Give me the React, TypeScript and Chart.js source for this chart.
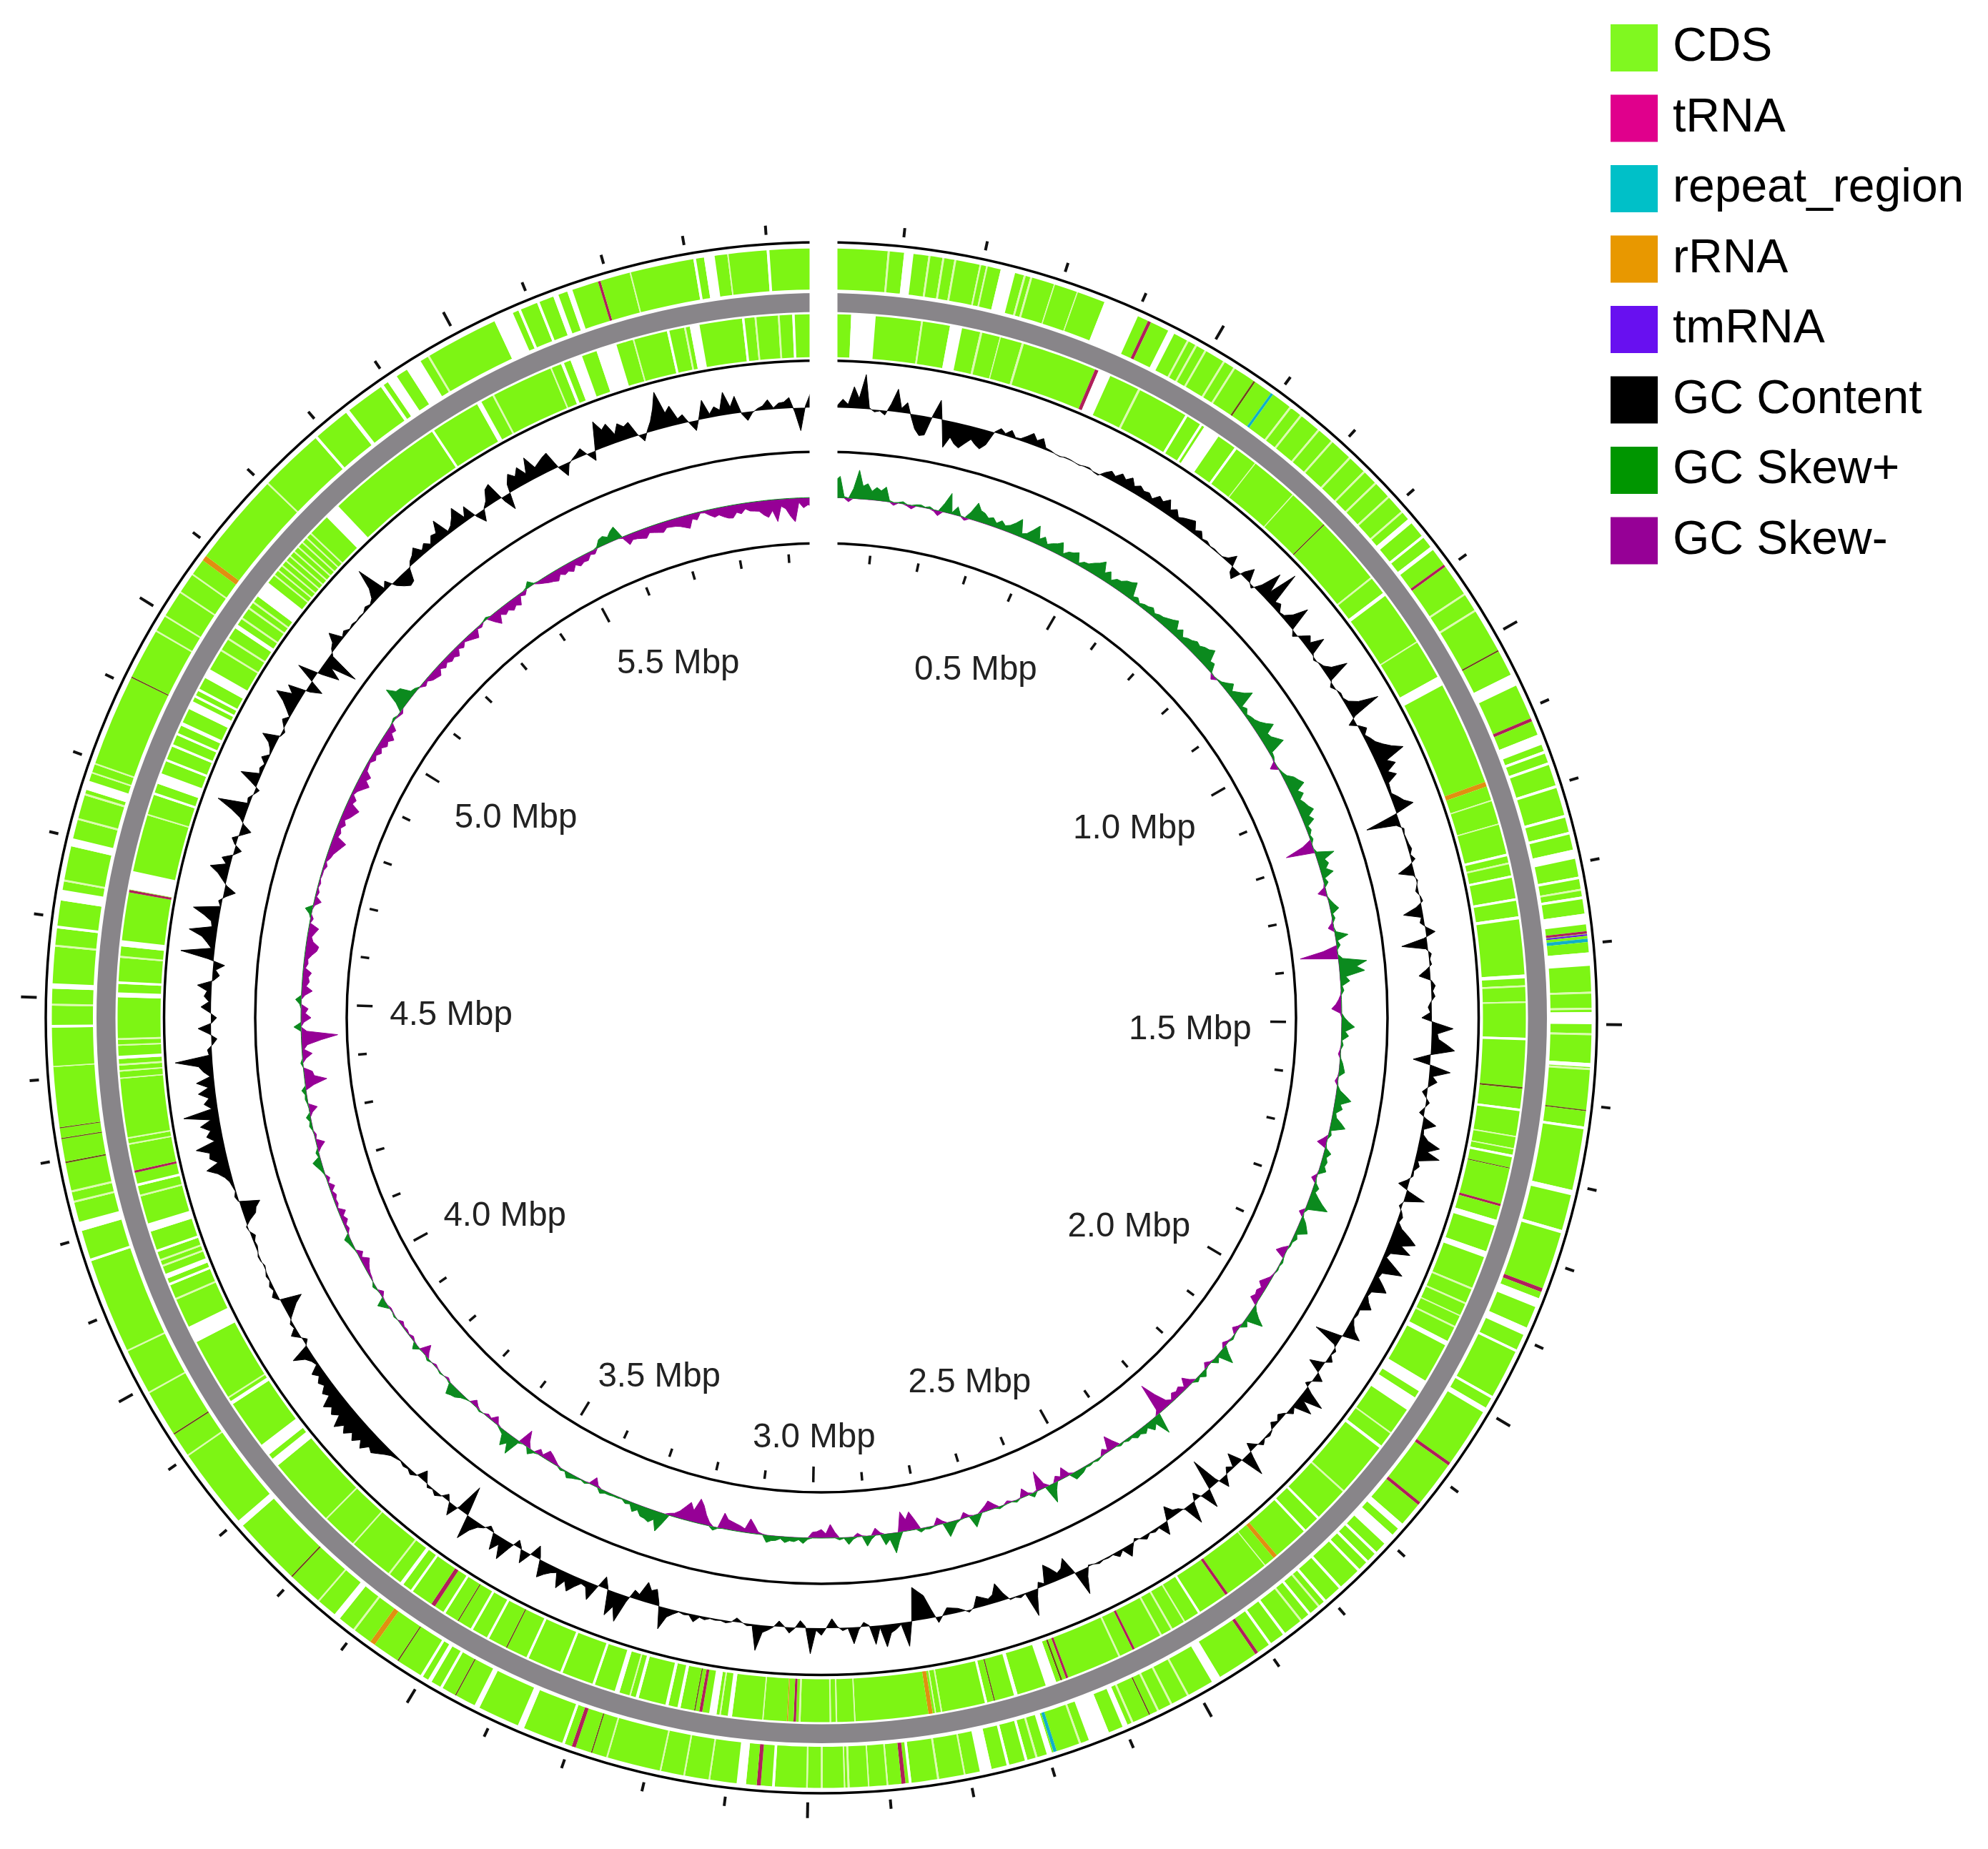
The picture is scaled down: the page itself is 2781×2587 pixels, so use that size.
import React, { useEffect, useRef } from "react";
import { Chart, registerables } from "chart.js";

Chart.register(...registerables);

const genomeMbp = 5.967;
const tickMbp = Array.from({ length: 59 }, (_, i) => (i + 1) / 10);
const mbpLabels = ["0.5 Mbp", "1.0 Mbp", "1.5 Mbp", "2.0 Mbp", "2.5 Mbp", "3.0 Mbp", "3.5 Mbp", "4.0 Mbp", "4.5 Mbp", "5.0 Mbp", "5.5 Mbp"];
const mbpLabelAngles = [23.8, 58.6, 91.5, 124, 157.8, 181, 204.4, 238.2, 270.7, 303.4, 338.1];
const mbpLabelDistance = [535, 513, 516, 519, 549, 585, 549, 521, 518, 512, 537];

const legendNames = ["CDS", "tRNA", "repeat_region", "rRNA", "tmRNA", "GC Content", "GC Skew+", "GC Skew-"];
const legendColors = ["#80F820", "#E0008C", "#00C0C8", "#E89800", "#6810F0", "#000000", "#009600", "#960096"];

// [position, width, kind]; kinds: w gap between genes, t tRNA, r rRNA, c repeat_region, m tmRNA, d dark tRNA hairline
const forwardFeatures: [number, number, string][] = [
  [5, .15, "w"], [6.5, .7, "w"], [8.05, .15, "w"], [9.1, .15, "w"], [10, .15, "w"], [11.9, .12, "w"], [12.4, .12, "w"], [14, 1.1, "w"], [15.3, .15, "w"], [15.8, .15, "w"], [17.6, .08, "w"], [19.4, .08, "w"],
  [22.9, 2.7, "w"], [25.2, .25, "t"], [27, .5, "w"], [28.4, .15, "w"], [29.1, .15, "w"], [29.9, .15, "w"], [31.5, .15, "w"], [32.4, .15, "w"], [34.2, .15, "d"], [35.8, .2, "c"], [37.5, .15, "w"], [38.5, .15, "w"],
  [40.2, .15, "w"], [41.5, .15, "w"], [43.3, .15, "w"], [44.8, .15, "w"], [46, .15, "w"], [47.4, .15, "w"], [48.9, .15, "w"], [49.8, .4, "w"], [51.3, .2, "w"], [52.4, .3, "w"], [54, .2, "t"], [56.6, .15, "w"], [58.05, .15, "w"],
  [61.5, .12, "d"], [63.95, .9, "w"], [67.2, .25, "t"], [68.8, .8, "w"], [69.8, .2, "w"], [70.7, .2, "w"], [72.5, .2, "w"], [74.8, .2, "w"], [76.1, .2, "w"], [77.7, .7, "w"], [79.5, .2, "w"], [80.4, .15, "w"], [81, .2, "w"],
  [82.6, .8, "w"], [83.6, .18, "t"], [83.8, .12, "m"], [84.2, .25, "c"], [85.6, 1, "w"], [88.1, .15, "w"], [89.3, .15, "w"], [90, .9, "w"], [91.2, .15, "w"], [93.5, .3, "w"], [93.8, .15, "w"], [96.9, .1, "d"], [98.2, .2, "w"],
  [103.1, .4, "w"], [106.1, .25, "w"], [110.7, .3, "t"], [111.7, .7, "w"], [114, .6, "w"], [115.6, .2, "w"], [119.5, .2, "w"], [120.6, .4, "w"], [125.4, .25, "t"], [129.1, .25, "t"], [131.3, .5, "w"], [132.6, .9, "w"], [134, .2, "w"],
  [134.9, .2, "w"], [135.8, .2, "w"], [137.7, .2, "w"], [139.2, .2, "w"], [139.8, .15, "w"], [140.7, .2, "w"], [141.5, .15, "w"], [143.1, .2, "w"], [144.4, .2, "w"], [145.6, .25, "t"], [149.2, .7, "w"], [151.6, .15, "w"], [153, .15, "w"],
  [154.1, .15, "w"], [154.8, .1, "d"], [156.2, .15, "w"], [156.8, .4, "w"], [158.9, 1.6, "w"], [160.4, .15, "w"], [162.35, .25, "c"], [162.8, .4, "w"], [163.8, .15, "w"], [164.6, .2, "w"], [166, .2, "w"], [167.7, .9, "w"], [169.3, .12, "w"],
  [171.3, .15, "w"], [173.4, .2, "w"], [173.9, .3, "t"], [175.1, .12, "w"], [176.5, .1, "w"], [178, .15, "w"], [178.3, .1, "w"], [180, .15, "w"], [181.1, .12, "w"], [183.6, .2, "w"], [184.7, .3, "t"], [186, .7, "w"], [188.4, .12, "w"],
  [190.3, .12, "w"], [192.1, .12, "w"], [196.2, .12, "w"], [197.4, .1, "d"], [198.8, .3, "t"], [199.6, .2, "w"], [203, .5, "w"], [206.6, .4, "w"], [208.4, .1, "d"], [209.6, .2, "w"], [210.6, .3, "w"], [211.3, .2, "w"], [213.4, .1, "d"],
  [215.7, .4, "r"], [217.4, .15, "w"], [219, .5, "w"], [220.8, .12, "w"], [223.5, .12, "d"], [229, .5, "w"], [235.4, .12, "w"], [237.3, .12, "d"], [240.9, .12, "w"], [244.4, .12, "w"], [251.7, .2, "w"], [254.3, .7, "w"], [256.2, .15, "w"], [257, .15, "w"],
  [259.2, .12, "d"], [261, .08, "d"], [261.8, .08, "d"], [266.4, .08, "w"], [269.4, .2, "w"], [271, .15, "w"], [272.4, .4, "w"], [275.4, .15, "w"], [276.8, .2, "w"], [279.2, .8, "w"], [280.3, .15, "w"], [283.2, .6, "w"], [285, .15, "w"], [286.9, .15, "w"],
  [287.6, .7, "w"], [288.6, .12, "w"], [289.3, .12, "w"], [296.3, .1, "d"], [300.2, .12, "w"], [301.5, .12, "w"], [303.6, .12, "w"], [305.2, .12, "w"], [306.7, .4, "r"], [314, .12, "w"], [319, .2, "w"], [322, .3, "w"], [325.2, .25, "w"], [326.1, .8, "w"],
  [328, 1.2, "w"], [329.3, .15, "w"], [335.6, 1.5, "w"], [336.9, .2, "w"], [338.4, .2, "w"], [339.8, .4, "w"], [340.9, .4, "w"], [343.2, .2, "t"], [345.6, .1, "w"], [350.5, .2, "w"], [351.6, .8, "w"], [353, .1, "w"], [356, .2, "w"],
];
const reverseFeatures: [number, number, string][] = [
  [3.4, 2, "w"], [8.2, .15, "w"], [11, 1, "w"], [13.1, .18, "w"], [14.7, .08, "w"], [16.6, .18, "w"], [23.3, 1.8, "w"], [23, .3, "t"], [26.8, .18, "w"], [31.2, .2, "w"], [32.6, .2, "w"], [33.6, 1.4, "w"], [36, .2, "w"], [38, .08, "w"], [42, .08, "w"], [45.5, .1, "d"],
  [51.3, .15, "w"], [53, .3, "w"], [57.7, .1, "w"], [61.4, .8, "w"], [70.6, .4, "r"], [72, .1, "w"], [74, .1, "w"], [76.6, .2, "w"], [77.3, .15, "w"], [78.4, .2, "w"], [80.3, .2, "w"], [81.8, .25, "w"], [86.6, .3, "w"], [87.4, .15, "w"], [88.7, .12, "w"],
  [91.7, .2, "w"], [95.7, .15, "d"], [97.5, .2, "w"], [99.7, .1, "w"], [100.7, .1, "w"], [101.3, .2, "w"], [102.3, .08, "d"], [105.4, .2, "t"], [106.9, .5, "w"], [109.6, .5, "w"], [112.6, .15, "w"], [113.9, .15, "w"], [115, .1, "w"], [116, .15, "w"], [117.5, .4, "w"],
  [121.5, 1, "w"], [123.2, 1.2, "w"], [126.1, .12, "w"], [127.5, .25, "w"], [132.2, .15, "w"], [135.2, .2, "w"], [136.7, .2, "w"], [139.9, .35, "r"], [141, .08, "w"], [144.9, .25, "t"], [147.6, .2, "w"], [149, .12, "w"], [150.2, .15, "w"], [151.2, .15, "w"], [153.7, .2, "t"],
  [155, .15, "w"], [159.6, .2, "t"], [160.1, .15, "d"], [161, .9, "w"], [164, .3, "w"], [165.8, .1, "d"], [166.5, .2, "w"], [170.2, .12, "w"], [170.7, .1, "w"], [171.1, .35, "r"], [177.3, .1, "w"], [178.8, .12, "w"], [179.3, .12, "w"], [181.8, .15, "w"], [182.2, .2, "t"],
  [182.8, .08, "r"], [184.8, .1, "w"], [187.5, .35, "w"], [188.3, .12, "w"], [188.9, .6, "w"], [189.9, .25, "t"], [190.4, .1, "d"], [191.7, .25, "w"], [192.7, .25, "w"], [195.2, .25, "w"], [195.8, .12, "w"], [196.9, .4, "w"], [198.9, .2, "w"], [201.7, .2, "w"], [204.7, .2, "w"],
  [206.6, .1, "d"], [208.3, .2, "w"], [209.8, .2, "w"], [211.1, .1, "d"], [212.4, .2, "w"], [213.5, .35, "t"], [215.6, .2, "w"], [216.6, .3, "w"], [217.9, .15, "w"], [221.7, .12, "w"], [224.7, .12, "w"], [230.9, .7, "w"], [232.2, 1, "w"], [236.9, .3, "w"], [237.4, .12, "w"],
  [243.3, 1.4, "w"], [246.5, .15, "w"], [247.8, .2, "w"], [248.5, .4, "w"], [249.4, .15, "w"], [249.9, .15, "w"], [250.7, .2, "w"], [252.7, .7, "w"], [255.4, .15, "w"], [256.3, .2, "w"], [257.4, .2, "t"], [259.7, .12, "w"], [260.2, .12, "w"], [265.1, .1, "w"], [265.7, .12, "w"],
  [266.2, .15, "w"], [266.8, .25, "w"], [267.8, .12, "w"], [268.3, .15, "w"], [271.9, .4, "w"], [272.9, .2, "w"], [275, .15, "w"], [276.1, .5, "w"], [280.4, .2, "t"], [281.3, 1.5, "w"], [286.8, .12, "w"], [288.6, .2, "w"], [289.9, .9, "w"], [291.5, .2, "w"], [292.8, .2, "w"],
  [293.8, .2, "w"], [294.7, .3, "w"], [296.4, .7, "w"], [297.2, .2, "w"], [297.8, .2, "w"], [299.3, .8, "w"], [301.5, .15, "w"], [302.6, .15, "w"], [303.8, .35, "w"], [304.6, .15, "w"], [305.6, .15, "w"], [306.2, .15, "w"], [307.5, 1.4, "w"], [309, .12, "w"], [309.5, .12, "w"],
  [310, .12, "w"], [310.5, .12, "w"], [311, .12, "w"], [311.5, .12, "w"], [312, .12, "w"], [312.5, .12, "w"], [313, .12, "w"], [313.5, .12, "w"], [316, 1.3, "w"], [326.5, .2, "w"], [330.9, .4, "w"], [332.2, .15, "w"], [337.4, .12, "w"], [338.4, .25, "w"], [339.6, 1, "w"],
  [342.2, 1.7, "w"], [342.9, .1, "w"], [344.5, .12, "w"], [347.4, .2, "w"], [348.8, .15, "w"], [349.6, .8, "w"], [353.6, .2, "w"], [354.6, .15, "w"], [356.5, .15, "w"], [357.7, .2, "w"],
];

// GC deviation per half degree of the circle, outward positive
const gcContent = [
  0,2, 6,3, 12,5, 30,14, 48,2, -3,-1, -6,10, 32,6, 15,-4, -20,-28, -26,3, 26,-6, -38,-22, -30,-34, -26,-18, -24,-28, -20,1, 8,3, 10,2, 3,9,
  16,8, 14,3, 2,0, -1,1, 1,0, -1,1, 2,-1, -2,6, 12,8, 16,11, 18,9, 14,10, 12,7, 16,12, 20,8, 14,6, 10,13, 16,5, 10,2, 4,1,
  2,1, 1,5, 15,-8, -14,6, 18,1, -4,10, 38,12, 52,7, 11,2, 4,14, 34,1, -6,4, 14,8, 26,2, -3,1, 4,12, 33,2, -5,0, 3,2, 6,18,
  45,4, -10,2, 10,3, 8,12, 20,30, 44,15, 25,10, 20,5, 4,3, 10,16, 27,-4, -47,-6, 3,1, 2,3, 5,1, 6,-5, -22,-2, 2,-1, -4,1, 3,-8,
  -27,-3, -6,2, 13,-4, -36,-3, 4,1, 3,-6, -16,1, 6,2, 5,-1, -5,-2, -14,6, 30,8, 10,22, 33,-2, -24,4, 29,5, 12,1, -7,-1, 5,-1, -7,4,
  19,3, 4,12, 30,14, 33,4, 8,2, 3,-4, -14,4, 28,1, -4,2, 6,3, 10,24, 36,18, 34,8, 5,20, 35,8, 6,16, 25,6, 4,9, 17,3, 4,2,
  6,12, 24,-4, -38,-3, 4,1, 8,-3, -20,-1, 12,1, -6,10, 34,8, 27,3, 8,-2, -8,-2, -8,1, 4,1, 6,-3, -12,8, 33,-3, -20,-2, -8,2, 15,-6,
  -43,-2, 26,2, -10,4, 30,2, -5,-8, -19,-1, 18,2, 4,1, 6,1, -4,5, 16,2, 8,1, 2,1, 3,0, -2,12, 35,-3, -26,-14, -10,-20, -28,-3, -8,10,
  36,1, 4,1, 2,-10, -26,-12, -8,-12, -16,-2, 3,-2, -6,-8, -10,-1, 8,-12, -33,-40, -47,1, 34,2, 8,12, 31,3, 26,-1, -6,4, 23,1, 4,-2, -13,-1,
  10,3, 36,-2, -10,1, 8,-1, -8,1, 6,10, 36,2, 3,-1, -6,1, 3,1, 2,1, 4,2, 10,2, 3,1, 6,12, 31,-4, -22,-18, -28,-8, -12,8, 39,20,
  35,-2, -16,3, 24,8, 6,14, 24,12, 26,6, 10,16, 24,-3, -17,2, 18,-2, -10,8, 29,10, 23,-1, -6,2, 6,16, 34,-8, -41,-3, 17,1, -8,1, 6,1,
  4,-5, -14,1, 6,2, 4,1, 3,5, 10,16, 22,18, 29,20, 30,22, 32,24, 36,20, 28,21, 30,14, 20,11, 16,9, 16,3, 6,12, 27,1, -6,2, 11,2,
  4,-2, -10,-18, -30,1, 8,2, 5,1, 3,0, -2,1, 2,-1, -3,-2, -6,0, 2,-6, -17,-20, -28,1, 4,1, 3,5, 10,18, 32,14, 24,22, 40,12, 22,15,
  28,12, 49,8, 18,10, 24,9, 25,5, 14,20, 52,4, 6,-2, -8,3, 18,-1, -8,2, 14,3, 10,6, 20,-2, -10,-4, -16,8, 47,5, 12,20, 39,8, 10,22,
  38,1, 5,-4, -16,-2, 6,14, 27,6, 14,-1, -10,2, 8,-4, -15,-2, 6,22, 44,3, 5,-1, -6,10, 28,3, 6,2, 10,1, 4,10, 23,-1, -4,2, 8,1,
  10,20, 35,14, 25,-6, -21,3, 28,-6, -30,-12, -48,-4, 4,8, 20,2, 6,1, 3,1, 2,1, 5,2, 6,18, 45,3, 10,-6, -14,-20, -18,-2, 6,10, 17,6,
  12,5, 14,12, 28,4, 8,16, 27,6, 19,-3, -16,1, 8,22, 26,-6, -23,12, 24,16, 26,12, 33,14, 18,22, 25,-2, -17,-3, 2,6, 11,-2, -13,12, 39,24,
  30,12, 25,18, 22,2, -10,3, 14,30, 52,20, 28,8, 12,-2, -14,4, 26,5, 14,8, 32,10, 24,-2, -12,-2, 3,6, 14,2, 8,9, 15,-6, -32,2, 20,1,
];

// GC skew per half degree of the circle: positive is Skew+, negative is Skew-
const gcSkew = [
  -6,4, 10,24, 30,2, -5,14, 40,18, 22,12, 18,14, 20,2, -4,1, 3,-2, -5,2, 3,1, 3,-2, -7,12, 28,2, 12,1, -4,10, 25,16, 14,9, 12,6,
  12,7, 10,16, 24,5, 8,16, 25,8, 14,6, 10,13, 18,4, 10,12, 16,3, 8,9, 14,18, 24,10, 16,6, 12,13, 18,20, 24,5, 8,3, 6,7, 10,5,
  8,9, 12,15, 19,8, 14,6, 10,12, 16,14, 18,20, 25,10, 12,1, -6,1, 3,8, 14,6, 12,18, 27,4, 8,3, 6,8, 12,18, 26,12, 14,20, 26,4,
  3,-1, -10,1, 3,6, 14,18, 23,10, 16,8, 12,15, 20,10, 15,4, 6,2, 4,-14, -40,3, 26,10, 14,8, 17,3, 6,-2, -12,-1, 3,7, 12,2, 4,-2,
  -8,2, 18,2, 5,-20, -53,6, 39,24, 35,8, 13,2, 4,-1, -4,-8, -14,-2, 4,10, 18,5, 10,1, 3,-1, -3,1, 4,6, 8,-1, -4,1, 5,14, 22,8,
  12,4, 6,14, 21,2, 4,-6, -13,2, 10,5, 8,6, 10,-1, -7,2, 8,5, 12,20, 30,4, -7,2, 8,12, 16,3, 6,2, 2,-8, -14,1, 3,1, 2,-1,
  -3,-8, -13,-6, -10,-8, -12,1, 6,14, 25,3, 8,-3, -8,1, 3,-2, -6,10, 23,3, 8,-2, -7,2, 8,2, 5,-6, -15,-4, -10,-7, -10,-3, -8,-24, -45,-6,
  29,8, 14,5, 10,6, 8,3, 4,1, 3,-10, -21,-3, -8,1, 3,1, 3,2, 6,8, 10,-3, -15,-4, -8,10, 26,-6, -27,-2, 6,-3, -12,-1, 3,-1, -4,1,
  3,-6, -13,-8, -4,8, 17,-2, -8,1, 4,12, 20,-4, -10,1, 3,2, 5,-14, -26,-16, -28,12, 28,8, 15,-3, -10,5, 14,-1, -5,3, 10,1, 3,-8, -19,-6,
  -12,-9, -8,2, 8,3, 6,5, 8,3, 6,7, 10,-1, -3,-12, -20,-5, -8,-10, -12,-14, -22,1, 5,-5, -14,-26, -34,-16, -26,-18, -10,-5, -3,14, 27,12, 18,15,
  14,7, 12,3, 5,1, 2,2, 3,3, 6,-3, -12,-1, 3,1, 3,5, 8,1, 3,-2, -6,-10, -13,-3, -8,2, 8,-8, -22,3, 25,12, 20,6, 3,-2, -10,-2,
  -4,0, 2,-3, -8,0, 2,5, 10,12, 15,2, -3,0, 2,-1, -3,0, 3,-6, -15,1, 8,-1, -4,-1, -3,-2, -5,0, 2,-1, -2,6, 12,-1, -6,1, 4,0,
  -2,-3, -5,-8, -12,-3, -8,1, 3,5, 8,-1, -5,-3, -8,-4, -10,-1, -4,-3, -6,-2, -8,-1, -5,1, 4,8, 12,2, 4,-5, -12,-1, -3,1, 4,2, 6,-4,
  -12,1, 3,2, 6,-12, -31,-14, -12,0, 3,-5, -14,-3, -8,-28, -51,-8, 10,-4, -14,-6, -10,2, 8,-5, -15,-6, -10,-8, -12,-3, -6,-5, -10,-16, -18,-9, -6,-10,
  -14,-1, -4,3, 10,-2, -10,-2, -4,-1, -3,-1, -2,-2, -5,-2, -6,-8, -12,-16, -20,-6, -8,-5, -10,-6, -12,-16, -20,-7, -10,-3, -6,-12, -18,-10, -14,-5, -4,-3,
  -8,-5, -10,-6, -12,-9, -15,-7, -10,1, 3,-2, -4,12, 34,22, 20,6, 4,-1, -6,-3, -8,-10, -12,-5, -10,-6, -10,-8, -12,-4, -8,-3, -6,-9, -12,-2, -4,1,
  3,-10, -18,-7, -12,-9, -14,-10, -14,-3, -6,2, 8,1, -4,-7, -10,-12, -15,-8, -12,-10, -14,-7, -12,-9, -10,-4, -6,2, 10,12, 8,14, 18,-2, -14,-9, -10,-12,
  -14,-8, -10,-12, -14,-9, -10,-11, -13,-16, -19,-7, -10,-2, -3,-8, -12,-10, -14,-17, -18,-11, -14,-8, -12,-13, -14,-20, -24,-15, -31,-10, -14,-25, -33,-6, -14,-10, -12,-8,
];

const kindColors: Record<string, string> = { w: "#ffffff", t: "#B0205A", r: "#E09010", c: "#10B0C8", m: "#6810F0", d: "#6E4A18" };
const thinGapColor = "#DDFBB0";
const ringGreen = "#7DF514";
const trackGray = "#888589";

const radii = { outerLine: 1085, forwardOut: 1077, forwardIn: 1019.5, grayOut: 1014.5, grayIn: 988, reverseOut: 985, reverseIn: 925, line2: 919.5, gcBase: 854, line3: 792, skewBase: 728, line4: 664 };

function ring(features: [number, number, string][]) {
  const sorted = [...features].sort((a, b) => a[0] - b[0]);
  const data: number[] = [];
  const colors: string[] = [];
  let cursor = 0;
  for (const [pos, width, kind] of sorted) {
    const start = Math.max(pos - width / 2, cursor);
    const end = pos + width / 2;
    if (end <= start) continue;
    if (start > cursor) { data.push(start - cursor); colors.push(ringGreen); }
    data.push(end - start);
    colors.push(kind === "w" && width < 0.2 ? thinGapColor : kindColors[kind]);
    cursor = end;
  }
  data.push(360 - cursor);
  colors.push(ringGreen);
  return { data, colors };
}

const geometryPlugin = {
  id: "genomeGeometry",
  afterLayout(chart: any) {
    const legend = chart.legend;
    const pad = legend.options.labels.padding;
    const w = legend.width, h = legend.height;
    legend.left = 2265 - pad;
    legend.top = 34 - pad;
    legend.right = legend.left + w;
    legend.bottom = legend.top + h;
  },
  afterDatasetsDraw(chart: any) {
    const { ctx } = chart;
    const scale = chart.scales.r;
    const n = chart.data.labels.length;
    const at = (deg: number, r: number) => scale.getPointPosition((deg / 360) * n, r);
    ctx.save();
    // the break in every track at the origin
    ctx.fillStyle = "#ffffff";
    ctx.fillRect(scale.xCenter - 16.5, scale.yCenter - radii.outerLine - 8, 39, radii.outerLine - radii.line4 + 12);
    // ticks
    ctx.strokeStyle = "#111111";
    ctx.lineCap = "butt";
    for (const mbp of tickMbp) {
      const deg = (mbp / genomeMbp) * 360;
      const major = Math.abs(mbp * 2 - Math.round(mbp * 2)) < 1e-6;
      ctx.lineWidth = 4;
      const a = at(deg, 1098), b = at(deg, major ? 1120 : 1111);
      ctx.beginPath(); ctx.moveTo(a.x, a.y); ctx.lineTo(b.x, b.y); ctx.stroke();
      const c = at(deg, major ? 628 : 638), d = at(deg, 650);
      ctx.lineWidth = 3.5;
      ctx.beginPath(); ctx.moveTo(c.x, c.y); ctx.lineTo(d.x, d.y); ctx.stroke();
    }
    // scale labels
    ctx.fillStyle = "#222222";
    ctx.font = "47.5px 'Liberation Sans'";
    ctx.textAlign = "center";
    ctx.textBaseline = "middle";
    mbpLabels.forEach((label, i) => {
      const p = at(mbpLabelAngles[i], mbpLabelDistance[i]);
      ctx.fillText(label, p.x, p.y + 3);
    });
    ctx.restore();
  },
};

export default function App() {
  const ref = useRef<HTMLCanvasElement>(null);
  useEffect(() => {
    const forward = ring(forwardFeatures);
    const reverse = ring(reverseFeatures);
    const arc = (data: number[], colors: string[] | string, weight: number) => ({
      type: "doughnut", data, backgroundColor: colors, borderWidth: 0, weight,
      radius: radii.forwardOut,
      cutout: `${(radii.reverseIn / radii.forwardOut) * 100}%`,
    });
    const radial = (data: number[], color: string, base: number) => ({
      type: "radar", data, weight: 0, borderColor: color, backgroundColor: color, borderWidth: 1,
      pointRadius: 0, tension: 0, fill: { value: base },
    });
    const chart = new Chart(ref.current!, {
      type: "radar",
      data: {
        labels: gcContent.map((_, i) => String(i / 2)),
        datasets: [
          arc(forward.data, forward.colors, radii.forwardOut - radii.forwardIn),
          arc([1], "rgba(0,0,0,0)", radii.forwardIn - radii.grayOut),
          arc([1], trackGray, radii.grayOut - radii.grayIn),
          arc([1], "rgba(0,0,0,0)", radii.grayIn - radii.reverseOut),
          arc(reverse.data, reverse.colors, radii.reverseOut - radii.reverseIn),
          radial(gcContent.map((v) => radii.gcBase + v), "#000000", radii.gcBase),
          radial(gcSkew.map((v) => radii.skewBase + Math.max(v, 0)), "#0B8A1E", radii.skewBase),
          radial(gcSkew.map((v) => radii.skewBase + Math.min(v, 0)), "#960096", radii.skewBase),
        ] as any,
      },
      options: {
        responsive: false,
        devicePixelRatio: 1,
        animation: false,
        events: [],
        layout: { padding: { left: 0, top: 262, right: 482, bottom: 0 } },
        scales: {
          r: {
            min: 0,
            max: 1149,
            afterBuildTicks(scale: any) {
              scale.ticks = [0, radii.line4, radii.line3, radii.line2, radii.outerLine].map((value) => ({ value }));
            },
            ticks: { display: false },
            grid: { circular: true, color: "#000000", lineWidth: 3.5 },
            angleLines: { display: false },
            pointLabels: { display: false },
          },
        },
        plugins: {
          tooltip: { enabled: false },
          legend: {
            position: "chartArea",
            align: "start",
            labels: {
              usePointStyle: true,
              boxWidth: 42,
              boxHeight: 66,
              padding: 32.5,
              color: "#111111",
              font: { family: "'Liberation Sans'", size: 66 },
              generateLabels: () =>
                legendNames.map((text, i) => ({ text, fillStyle: legendColors[i], strokeStyle: legendColors[i], lineWidth: 0, pointStyle: "rect", hidden: false })),
            },
          },
        },
      } as any,
      plugins: [geometryPlugin],
    } as any);
    return () => chart.destroy();
  }, []);
  return (
    <div style={{ position: "absolute", left: 0, top: 0, width: 2781, height: 2587, background: "#fff" }}>
      <canvas ref={ref} width={2781} height={2587} style={{ display: "block" }} />
    </div>
  );
}
